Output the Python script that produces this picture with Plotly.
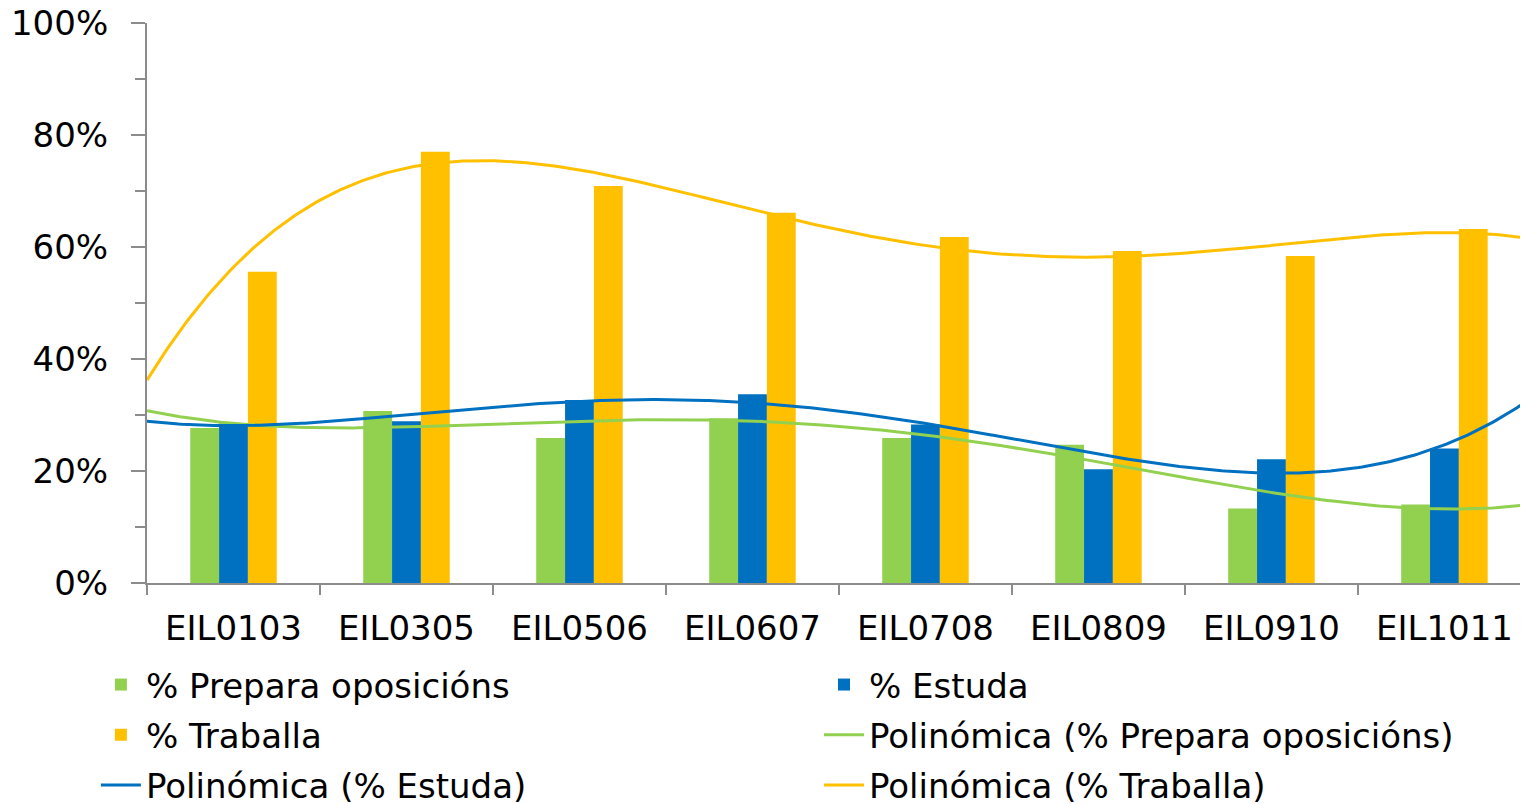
import numpy as np
import plotly.graph_objects as go

categories = ["EIL0103", "EIL0305", "EIL0506", "EIL0607", "EIL0708", "EIL0809", "EIL0910", "EIL1011"]
prepara = [0.277, 0.307, 0.259, 0.294, 0.259, 0.247, 0.133, 0.140]
estuda = [0.285, 0.289, 0.327, 0.337, 0.283, 0.203, 0.221, 0.240]
traballa = [0.556, 0.770, 0.709, 0.661, 0.618, 0.593, 0.584, 0.632]

names = ["% Prepara oposicións", "% Estuda", "% Traballa"]
colors = ["#92D050", "#0070C0", "#FFC000"]
series = [prepara, estuda, traballa]
bar_legends = ["legend", "legend2", "legend"]
line_legends = ["legend2", "legend", "legend2"]
DEG = 4  # Excel polynomial trend line order

FONT = "DejaVu Sans"
fig = go.Figure()

for i, (n, c, s) in enumerate(zip(names, colors, series)):
    fig.add_trace(go.Bar(x=categories, y=s, name=n, marker=dict(color=c, line=dict(width=0)),
                         legend=bar_legends[i], legendgroup=f"b{i}"))

xi = np.arange(len(categories))
xs = np.linspace(-0.5, 7.6, 400)
for i, (n, c, s) in enumerate(zip(names, colors, series)):
    coef = np.polyfit(xi, s, DEG)
    fig.add_trace(go.Scatter(x=xs, y=np.polyval(coef, xs), mode="lines", name=f"Polinómica ({n})",
                             line=dict(color=c, width=3), xaxis="x2",
                             legend=line_legends[i], legendgroup=f"l{i}"))

xmax = 7.483
leg_common = dict(orientation="v", xref="paper", yref="container", y=0.186,
                  xanchor="left", yanchor="top", font=dict(size=34), tracegroupgap=3,
                  itemwidth=40, bgcolor="rgba(0,0,0,0)")
fig.update_layout(
    width=1520, height=796,
    margin=dict(l=139, r=0, t=15, b=221, autoexpand=False),
    paper_bgcolor="white", plot_bgcolor="white",
    barmode="group", bargap=0.5, bargroupgap=0,
    font=dict(family=FONT, size=34, color="black"),
    xaxis=dict(type="category", range=[-0.5, xmax], showline=True, linecolor="#8c8c8c", linewidth=2,
               ticks="outside", tickson="boundaries", ticklen=10, tickcolor="#8c8c8c", tickwidth=2,
               showgrid=False, tickfont=dict(size=34), ticklabelstandoff=14, automargin=False),
    xaxis2=dict(range=[-0.5, xmax], overlaying="x", visible=False, showgrid=False),
    yaxis=dict(range=[0, 1], dtick=0.2, tickformat=".0%", showline=True, linecolor="#8c8c8c", linewidth=2,
               ticks="outside", ticklen=14, tickcolor="#8c8c8c", tickwidth=2, showgrid=False, zeroline=False,
               tickfont=dict(size=34), ticklabelstandoff=16, ticklabeloverflow="allow", automargin=False,
               minor=dict(dtick=0.1, ticks="outside", ticklen=10, tickcolor="#8c8c8c", tickwidth=2)),
    legend=dict(x=-0.037, **leg_common),
    legend2=dict(x=0.4866, **leg_common),
    showlegend=True,
)

fig.write_html("out.html")
